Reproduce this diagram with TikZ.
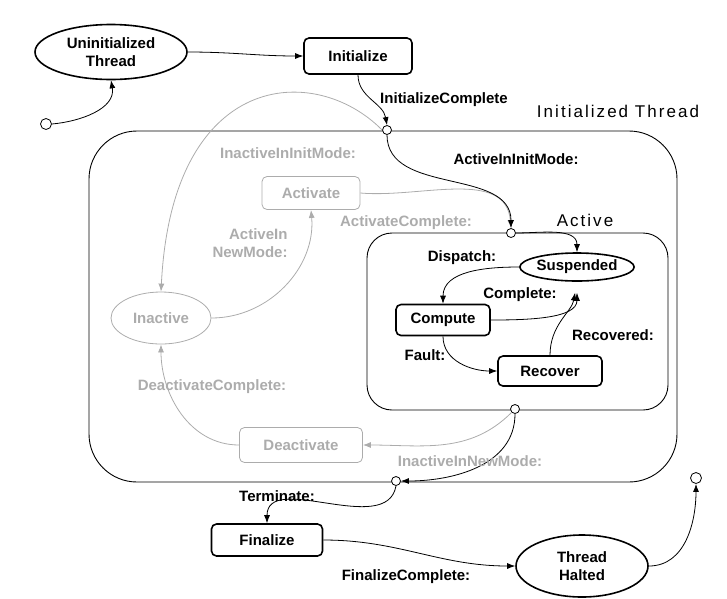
\documentclass[tikz,border=0pt]{standalone}
\usepackage{fontspec}
\setmainfont{Liberation Sans}
\newfontfamily\widefont[LetterSpace=12]{Liberation Sans}
\usetikzlibrary{arrows.meta,positioning,shapes.geometric}
\definecolor{faint}{RGB}{172,172,172}

\tikzset{
  every node/.style={font=\bfseries\fontsize{15}{18}\selectfont},
  actbox/.style={draw,line width=1.6pt,rounded corners=5pt,inner sep=0pt},
  actoval/.style={ellipse,draw,line width=1.6pt,inner sep=0pt,align=center},
  dimbox/.style={draw=faint,text=faint,line width=0.8pt,rounded corners=5pt,inner sep=0pt},
  dimoval/.style={ellipse,draw=faint,text=faint,line width=0.8pt,inner sep=0pt},
  port/.style={circle,draw,fill=white,line width=0.8pt,inner sep=0pt,minimum size=9pt},
  trans/.style={line width=0.8pt,-{Latex[length=8pt,width=6pt]}},
  dimtrans/.style={trans,draw=faint},
  lbl/.style={inner sep=0pt},
  dimlbl/.style={lbl,text=faint,align=right},
  frametitle/.style={inner sep=0pt,font=\widefont\fontsize{17}{20}\selectfont}
}

\begin{document}
\begin{tikzpicture}[x=1pt,y=-1pt]
\useasboundingbox (0,0) rectangle (727,598);

\draw[line width=0.9pt,rounded corners=48pt] (89,131) rectangle (677,482);
\draw[line width=0.9pt,rounded corners=25pt] (367,233) rectangle (668,410);
\node[frametitle] (thrtitle) at (618,111) {Initialized Thread};
\node[frametitle] (acttitle) at (585,220) {Active};

\node[actoval,minimum width=152pt,minimum height=55pt] (uninit) at (111,52) {Uninitialized\\Thread};
\node[actbox,minimum width=108pt,minimum height=36pt] (initz) at (358,56) {Initialize};
\node[actoval,minimum width=114pt,minimum height=28pt] (susp) at (577,267) {Suspended};
\node[actbox,minimum width=94pt,minimum height=31pt] (comp) at (443,320) {Compute};
\node[actbox,minimum width=104pt,minimum height=30pt] (rec) at (550,371) {Recover};
\node[actbox,minimum width=111pt,minimum height=32pt] (fin) at (267,540) {Finalize};
\node[actoval,minimum width=132pt,minimum height=62pt] (halt) at (582,566) {Thread\\Halted};

\node[dimbox,minimum width=98pt,minimum height=33pt] (act) at (311,193) {Activate};
\node[dimoval,minimum width=100pt,minimum height=52pt] (inact) at (161,318) {Inactive};
\node[dimbox,minimum width=123pt,minimum height=35pt] (deact) at (301,445) {Deactivate};

\node[port,minimum size=11pt] (start) at (46,124) {};
\node[port] (entryT) at (387,130) {};
\node[port] (entryA) at (511,233) {};
\node[port] (exitA) at (515,409) {};
\node[port] (exitT) at (396,481) {};
\node[port,minimum size=11pt] (stop) at (696,478) {};

% grey transitions
\draw[dimtrans] (entryT.west) .. controls (315,62) and (172,70) .. (inact.north);
\draw[dimtrans] (inact.east) to[out=0,in=-85] (act.south);
\draw[dimtrans] (act.east) to[out=-5,in=95] (entryA.north);
\draw[dimtrans] (exitA.south west) to[out=-135,in=0] (deact.east);
\draw[dimtrans] (deact.west) to[out=180,in=-90] (inact.south);

% black transitions
\draw[trans] (start.east) to[out=5,in=-80] (uninit.south);
\draw[trans] (uninit.east) to[out=0,in=180] (initz.west);
\draw[trans] (initz.south) to[out=-90,in=100] (entryT.north);
\draw[trans] (entryT.south) to[out=-90,in=90] (entryA.north);
\draw[trans] (entryA.east) to[out=0,in=90] (susp.north);
\draw[trans] (susp.west) to[out=180,in=90] (comp.north);
\draw[trans,shorten >=11pt] (comp.east) to[out=0,in=-90] (susp.south);
\draw[trans] (comp.south) to[out=-90,in=180] (rec.west);
\draw[trans,shorten >=11pt] (rec.north) to[out=90,in=-100] (susp.south);
\draw[trans] (exitA.south) to[out=-90,in=0] (exitT.east);
\draw[trans] (exitT.south) to[out=-100,in=90] (fin.north);
\draw[trans] (fin.east) to[out=0,in=180] (halt.west);
\draw[trans] (halt.east) to[out=0,in=-90] (stop.south);

% labels
\node[lbl] (l1) at (444,100) {InitializeComplete};
\node[lbl] (l2) at (516,159) {ActiveInInitMode:};
\node[lbl] (l3) at (462,258) {Dispatch:};
\node[lbl] (l4) at (520,295) {Complete:};
\node[lbl] (l5) at (613,335) {Recovered:};
\node[lbl] (l6) at (425,355) {Fault:};
\node[lbl] (l7) at (277,496) {Terminate:};
\node[lbl] (l8) at (406,577) {FinalizeComplete:};
\node[dimlbl] (g1) at (288,153) {InactiveInInitMode:};
\node[dimlbl] (g2) at (406,223) {ActivateComplete:};
\node[dimlbl] (g3) at (250,243) {ActiveIn\\NewMode:};
\node[dimlbl] (g4) at (212,387) {DeactivateComplete:};
\node[dimlbl] (g5) at (470,461) {InactiveInNewMode:};
\end{tikzpicture}
\end{document}
